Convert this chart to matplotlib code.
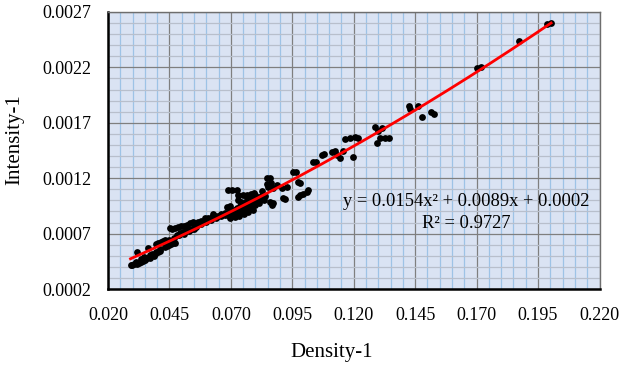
import numpy as np
import matplotlib
matplotlib.use("Agg")
import matplotlib.pyplot as plt
from matplotlib.ticker import MultipleLocator, FormatStrFormatter

plt.rcParams['font.family'] = ['Liberation Serif', 'DejaVu Serif']

# Data (Density-1, Intensity-1)
density = [
    0.02916, 0.02978, 0.03059, 0.03169, 0.03181, 0.03263, 0.03344, 0.03426, 0.03507, 0.03466,
    0.03588, 0.03641, 0.03711, 0.03792, 0.03874, 0.03955, 0.04037, 0.04118, 0.03935, 0.04037,
    0.04159, 0.04240, 0.04322, 0.04403, 0.04485, 0.04566, 0.04647, 0.04729, 0.04525, 0.04607,
    0.04729, 0.04851, 0.04973, 0.05095, 0.05218, 0.05340, 0.05462, 0.05544, 0.04810, 0.04933,
    0.05055, 0.05177, 0.05299, 0.05421, 0.05678, 0.05788, 0.05951, 0.06073, 0.06224, 0.06358,
    0.06493, 0.06289, 0.06602, 0.06765, 0.06835, 0.06969, 0.06900, 0.07038, 0.07242, 0.07307,
    0.07307, 0.07511, 0.07649, 0.07824, 0.07947, 0.08260, 0.06888, 0.07010, 0.07091, 0.07132,
    0.07213, 0.07254, 0.07335, 0.07376, 0.07458, 0.07499, 0.07580, 0.07621, 0.07702, 0.07743,
    0.07824, 0.07865, 0.07947, 0.08028, 0.08110, 0.08150, 0.08191, 0.07173, 0.07335, 0.07539,
    0.07702, 0.07906, 0.06969, 0.07417, 0.07661, 0.07987, 0.08272, 0.08464, 0.08598, 0.08464,
    0.08529, 0.08639, 0.08733, 0.08871, 0.09075, 0.09279, 0.08598, 0.08663, 0.08733, 0.09140,
    0.09209, 0.09548, 0.09657, 0.09751, 0.09820, 0.09726, 0.09820, 0.09955, 0.10093, 0.10146,
    0.08394, 0.08354,
    0.0560, 0.0580, 0.0600, 0.0620, 0.0640, 0.0660, 0.0675, 0.0690, 0.0705, 0.0720,
    0.0740, 0.0760, 0.0780, 0.0800, 0.0815, 0.0430, 0.0450, 0.0470, 0.0490, 0.0510,
    0.0530, 0.0550, 0.0370, 0.0390, 0.0410, 0.0335, 0.0315,
    0.1034, 0.1047, 0.1070, 0.1080, 0.1111, 0.1125, 0.1132, 0.1145, 0.1158, 0.1165,
    0.1183, 0.1206, 0.1218, 0.1197, 0.1288, 0.1297, 0.1315, 0.1294, 0.1308, 0.1328,
    0.1342, 0.1423, 0.1430, 0.1461, 0.1478, 0.1514, 0.1528, 0.1702, 0.1719, 0.1871,
    0.1987, 0.2003,
]
intensity = [
    0.000421, 0.000417, 0.000430, 0.000537, 0.000426, 0.000439, 0.000448, 0.000457, 0.000466, 0.000489,
    0.000484, 0.000567, 0.000507, 0.000520, 0.000502, 0.000538, 0.000534, 0.000547, 0.000602, 0.000611,
    0.000620, 0.000629, 0.000638, 0.000588, 0.000593, 0.000602, 0.000611, 0.000615, 0.000753, 0.000742,
    0.000751, 0.000764, 0.000773, 0.000769, 0.000782, 0.000796, 0.000805, 0.000769, 0.000687, 0.000701,
    0.000714, 0.000723, 0.000737, 0.000746, 0.000807, 0.000818, 0.000838, 0.000845, 0.000853, 0.000863,
    0.000862, 0.000874, 0.000881, 0.000883, 0.000943, 0.000952, 0.001093, 0.001093, 0.001093, 0.001048,
    0.001003, 0.001048, 0.001048, 0.001057, 0.001062, 0.001087, 0.000886, 0.000898, 0.000868, 0.000913,
    0.000886, 0.000931, 0.000904, 0.000949, 0.000922, 0.000967, 0.000940, 0.000985, 0.000958, 0.001003,
    0.000972, 0.001021, 0.000985, 0.001012, 0.000994, 0.001030, 0.001008, 0.000850, 0.000859, 0.000877,
    0.000895, 0.000913, 0.000841, 0.000985, 0.001021, 0.001044, 0.001039, 0.001199, 0.001199, 0.001148,
    0.001123, 0.001154, 0.001109, 0.001139, 0.001109, 0.001123, 0.000988, 0.000958, 0.000973, 0.001019,
    0.001012, 0.001259, 0.001259, 0.001168, 0.001154, 0.001028, 0.001048, 0.001053, 0.001075, 0.001094,
    0.001035, 0.001003,
    0.000760, 0.000790, 0.000805, 0.000820, 0.000840, 0.000855, 0.000870, 0.000870, 0.000880, 0.000895,
    0.000905, 0.000925, 0.000940, 0.000960, 0.000975, 0.000580, 0.000640, 0.000660, 0.000690, 0.000700,
    0.000720, 0.000740, 0.000480, 0.000520, 0.000560, 0.000470, 0.000445,
    0.001349, 0.001349, 0.001409, 0.001416, 0.001439, 0.001448, 0.001409, 0.001380, 0.001448, 0.001551,
    0.001563, 0.001569, 0.001563, 0.001391, 0.001658, 0.001629, 0.001653, 0.001515, 0.001567, 0.001567,
    0.001560, 0.001856, 0.001822, 0.001854, 0.001755, 0.001793, 0.001778, 0.002192, 0.002206, 0.002441,
    0.002589, 0.002598,
]

# Trendline coefficients as displayed on the chart
coef_a, coef_b, coef_c = 0.0154, 0.0089, 0.0002
eq_text = "y = 0.0154x² + 0.0089x + 0.0002"
r2_text = "R² = 0.9727"

x_ticks = [0.020, 0.045, 0.070, 0.095, 0.120, 0.145, 0.170, 0.195, 0.220]
y_ticks = [0.0002, 0.0007, 0.0012, 0.0017, 0.0022, 0.0027]

fig = plt.figure(figsize=(6.22, 3.69), dpi=100)
ax = fig.add_axes([108/622, 1-289/369, (599.5-108)/622, (289-12)/369])
ax.set_facecolor('#DAE3F3')

ax.set_xlim(0.020, 0.220)
ax.set_ylim(0.0002, 0.0027)
ax.set_xticks(x_ticks)
ax.set_yticks(y_ticks)
ax.xaxis.set_major_formatter(FormatStrFormatter('%.3f'))
ax.yaxis.set_major_formatter(FormatStrFormatter('%.4f'))
ax.xaxis.set_minor_locator(MultipleLocator(0.005))
ax.yaxis.set_minor_locator(MultipleLocator(0.0001))

ax.grid(which='minor', axis='x', color='#9DC3E6', linewidth=0.9, zorder=0)
ax.grid(which='minor', axis='y', color='#B8BFCC', linewidth=0.9, zorder=0)
ax.grid(which='major', axis='both', color='#7F7F7F', linewidth=0.9, zorder=0.5)
ax.set_axisbelow(True)

ax.tick_params(which='both', length=0, labelsize=13, colors='black')
ax.tick_params(axis='x', pad=13)
ax.tick_params(axis='y', pad=12)

for s in ['left', 'bottom']:
    ax.spines[s].set_color('black')
    ax.spines[s].set_linewidth(1.8)
for s in ['top', 'right']:
    ax.spines[s].set_color('#6E6E6E')
    ax.spines[s].set_linewidth(1.0)

ax.scatter(density, intensity, s=24, color='black', zorder=3, linewidths=0)

xd = np.array(density)
xs = np.linspace(xd.min(), xd.max(), 200)
ys = coef_a * xs**2 + coef_b * xs + coef_c
ax.plot(xs, ys, color='#FF0000', linewidth=2.0, zorder=4)

ax.text(0.1658, 0.000988, eq_text, ha='center', va='center', fontsize=13.3, zorder=5)
ax.text(0.1658, 0.000793, r2_text, ha='center', va='center', fontsize=13.3, zorder=5)

fig.text(332/622, 1-353/369, "Density-1", ha='center', va='center', fontsize=15)
fig.text(15/622, 1-140/369, "Intensity-1", ha='center', va='center', fontsize=15, rotation=90)

fig.savefig("out.png", dpi=100)
